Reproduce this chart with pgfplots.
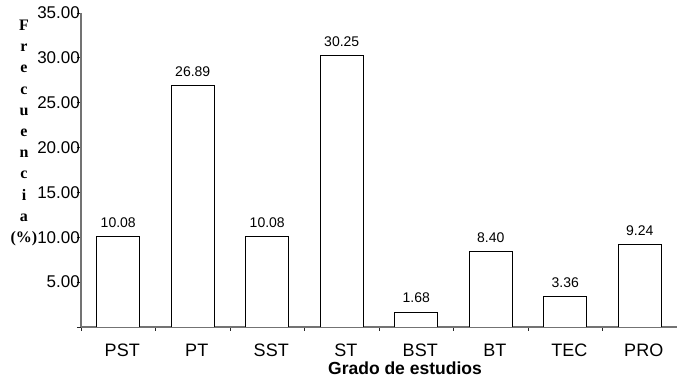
\documentclass[border=0pt]{standalone}
\usepackage{fontspec}
\setmainfont{Liberation Sans}
\newfontfamily\serifbf{Liberation Serif}
\usepackage{pgfplots}
\pgfplotsset{compat=1.18}

\begin{document}
\begin{tikzpicture}
\begin{axis}[
    at={(0,0)}, anchor=south west,
    scale only axis,
    width=596pt, height=314pt,
    ybar, bar width=43pt,
    xmin=-0.5, xmax=7.5,
    ymin=0, ymax=35,
    axis x line=bottom, axis y line=left,
    axis line style={-, line width=1.1pt, black!55},
    tick style={black!85, line width=0.8pt},
    tick align=outside,
    xtick={0,...,7},
    xticklabels={PST,PT,SST,ST,BST,BT,TEC,PRO},
    major x tick style={draw=none},
    minor xtick={-0.5,0.5,...,7.5},
    minor tick length=4pt,
    major tick length=4pt,
    xticklabel style={font=\fontsize{18}{20}\selectfont, anchor=base, yshift=-26pt, xshift=4pt},
    ytick={0,5,...,35},
    yticklabels={,5.00,10.00,15.00,20.00,25.00,30.00,35.00},
    yticklabel style={font=\fontsize{17}{19}\selectfont, inner sep=0pt, anchor=east, xshift=3pt},
    /pgf/number format/assume math mode=true,
    nodes near coords,
    nodes near coords style={font=\fontsize{14}{16}\selectfont},
    every node near coord/.append style={anchor=base, inner sep=0pt, yshift=9pt,
        /pgf/number format/fixed, /pgf/number format/fixed zerofill,
        /pgf/number format/precision=2},
    xlabel={Grado de estudios},
    xlabel style={font=\fontsize{17.5}{19}\selectfont\bfseries,
        at={(axis description cs:0.5436,0)}, anchor=base, yshift=-48pt},
    ylabel={F\\r\\e\\c\\u\\e\\n\\c\\i\\a\\(\%)},
    ylabel style={rotate=-90, align=center,
        font=\serifbf\bfseries\fontsize{16}{21.2}\selectfont,
        at={(axis description cs:0,0.618)}, anchor=center, xshift=-57pt},
]
\addplot[draw=black, fill=white, line width=0.8pt] coordinates {
    (0,10.08) (1,26.89) (2,10.08) (3,30.25)
    (4,1.68) (5,8.40) (6,3.36) (7,9.24)
};
\end{axis}
\pgfresetboundingbox
\path[use as bounding box] (-81pt,-52pt) rectangle (596pt,327pt);
\end{tikzpicture}
\end{document}
